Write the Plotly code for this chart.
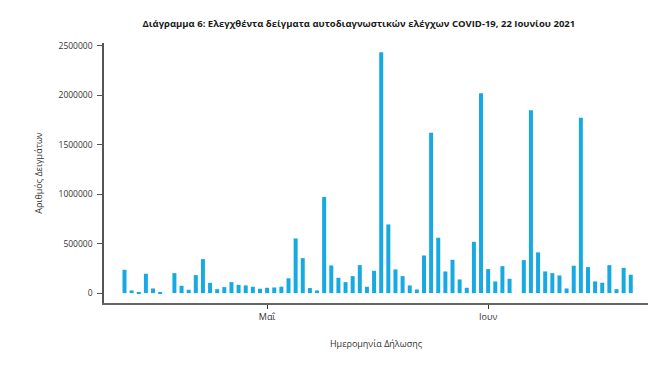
import pandas as pd
import plotly.graph_objects as go

dates = pd.date_range("2021-04-11", "2021-06-21", freq="D")
samples = [
    236000, 27000, 10000, 196000, 47000, 4000, 0, 202000, 74000, 34000,
    182000, 344000, 104000, 40000, 61000, 111000, 84000, 78000, 64000, 44000,
    54000, 57000, 65000, 150000, 553000, 354000, 51000, 27000, 972000, 280000,
    155000, 111000, 172000, 283000, 64000, 226000, 2436000, 695000, 240000, 172000,
    78000, 37000, 381000, 1623000, 560000, 219000, 337000, 138000, 54000, 519000,
    2021000, 243000, 118000, 273000, 145000, 0, 334000, 1849000, 412000, 219000,
    202000, 179000, 47000, 277000, 1775000, 263000, 118000, 105000, 283000, 40000,
    256000, 186000,
]
y_ticks = [0, 500000, 1000000, 1500000, 2000000, 2500000]
x_tick_vals = ["2021-05-01", "2021-06-01"]
x_tick_text = ["Μαΐ", "Ιουν"]

title = "Διάγραμμα 6: Ελεγχθέντα δείγματα αυτοδιαγνωστικών ελέγχων COVID-19, 22 Ιουνίου 2021"

fig = go.Figure(go.Bar(
    x=dates, y=samples,
    marker=dict(color="#17a9e1", line=dict(width=0)),
    width=0.56 * 86400000,
))

fig.update_layout(
    width=662, height=375,
    margin=dict(l=104, r=14, t=43, b=72, autoexpand=False),
    paper_bgcolor="white", plot_bgcolor="white",
    font=dict(family="Open Sans", color="#333333", size=9),
    showlegend=False,
    title=dict(text="<b>" + title + "</b>", x=0.542, xref="container", xanchor="center",
               y=1 - 24 / 375, yref="container", yanchor="middle",
               font=dict(family="Open Sans", size=9.5, color="#1a1a1a")),
)
fig.update_xaxes(
    type="date", automargin=False,
    range=["2021-04-08 03:00", "2021-06-23 10:00"],
    tickvals=x_tick_vals, ticktext=x_tick_text,
    ticks="outside", ticklen=4, tickcolor="#333", tickwidth=1,
    showline=True, linecolor="#666666", linewidth=2,
    showgrid=False, zeroline=False,
    tickfont=dict(size=9, color="#333"),
    title=dict(text="Ημερομηνία Δήλωσης", standoff=19, font=dict(size=9, color="#333")),
)
fig.update_yaxes(
    automargin=False,
    range=[-100000, 2530000],
    tickvals=y_ticks, tickformat="d",
    ticks="outside", ticklen=5, tickcolor="#555", tickwidth=1,
    showline=True, linecolor="#555555", linewidth=1.5,
    showgrid=False, zeroline=False,
    ticklabelstandoff=3,
    tickfont=dict(size=8.5, color="#333"),
    title=dict(text="Αριθμός Δειγμάτων", standoff=14, font=dict(size=9, color="#333")),
)

fig.write_html(
    "out.html",
    config={"displayModeBar": False},
    post_script="document.body.style.margin='0';document.body.style.overflow='hidden';",
)
